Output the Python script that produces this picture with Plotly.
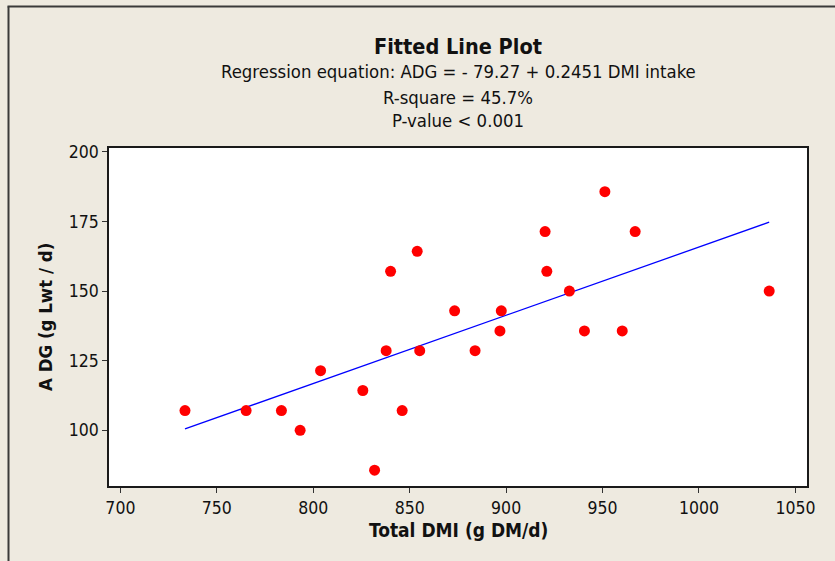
import plotly.graph_objects as go

# Total dry matter intake (g DM/d) and average daily gain (g Lwt/d)
dmi = [733.5, 765.2, 783.5, 793.2, 803.8, 825.7, 831.8, 837.8, 840.1, 846.1,
       853.9, 855.2, 873.3, 883.9, 896.8, 897.5, 920.2, 921.1, 932.8, 940.6,
       951.2, 960.2, 966.9, 1036.4]
adg = [107.1, 107.1, 107.1, 100.0, 121.4, 114.3, 85.7, 128.6, 157.1, 107.1,
       164.3, 128.6, 142.9, 128.6, 135.7, 142.9, 171.4, 157.1, 150.0, 135.7,
       185.7, 135.7, 171.4, 150.0]

# Fitted regression: ADG = -79.27 + 0.2451 * DMI
intercept = -79.27
slope = 0.2451

x_ticks = [700, 750, 800, 850, 900, 950, 1000, 1050]
y_ticks = [100, 125, 150, 175, 200]

W, H = 835, 561
L, R, T, B = 109, 28, 148, 75
PW, PH = W - L - R, H - T - B

def px(x):
    return (x - L) / PW

def py(y):
    return (H - B - y) / PH

FONT = "DejaVu Sans Condensed, DejaVu Sans, sans-serif"
BG = "#EEEAE0"

fit_x = sorted(dmi)
fit_y = [intercept + slope * v for v in fit_x]

fig = go.Figure()
fig.add_trace(go.Scatter(x=fit_x, y=fit_y, mode="lines",
                         line=dict(color="#0000FF", width=1.3),
                         hoverinfo="skip", showlegend=False))
fig.add_trace(go.Scatter(x=dmi, y=adg, mode="markers",
                         marker=dict(color="#FF0000", size=11, line=dict(width=0)),
                         showlegend=False))

axis_common = dict(showgrid=False, zeroline=False, showline=True, mirror=True,
                   linecolor="#1a1a1a", linewidth=1.5, ticks="outside",
                   ticklen=5, tickwidth=1.2, tickcolor="#333",
                   tickfont=dict(family=FONT, size=17.5, color="#111"))

fig.update_layout(
    width=W, height=H,
    margin=dict(l=L, r=R, t=T, b=B, pad=0),
    paper_bgcolor=BG, plot_bgcolor="white",
    xaxis=dict(range=[694.1, 1056.0], tickvals=x_ticks, **axis_common),
    yaxis=dict(range=[80.0, 201.4], tickvals=y_ticks, **axis_common),
    annotations=[
        dict(text="<b>Fitted Line Plot</b>", x=0.5, y=py(46), xref="paper", yref="paper",
             showarrow=False, yanchor="middle", font=dict(family=FONT, size=21.5, color="#111")),
        dict(text="Regression equation: ADG = - 79.27 + 0.2451 DMI intake", x=0.5, y=py(72),
             xref="paper", yref="paper", showarrow=False, yanchor="middle",
             font=dict(family=FONT, size=18.4, color="#111")),
        dict(text="R-square = 45.7%", x=0.5, y=py(97), xref="paper", yref="paper",
             showarrow=False, yanchor="middle", font=dict(family=FONT, size=18.4, color="#111")),
        dict(text="P-value < 0.001", x=0.5, y=py(120), xref="paper", yref="paper",
             showarrow=False, yanchor="middle", font=dict(family=FONT, size=18.4, color="#111")),
        dict(text="<b>Total DMI (g DM/d)</b>", x=0.5, y=py(530), xref="paper", yref="paper",
             showarrow=False, yanchor="middle", font=dict(family=FONT, size=19, color="#111")),
        dict(text="<b>A DG (g Lwt / d)</b>", x=px(45), y=0.5, xref="paper", yref="paper",
             showarrow=False, textangle=-90, xanchor="center", yanchor="middle",
             font=dict(family=FONT, size=18.5, color="#111")),
    ],
    shapes=[
        dict(type="line", xref="paper", yref="paper", x0=px(8.5), x1=px(8.5),
             y0=py(6.5), y1=py(H + 5), line=dict(color="#3a3a3a", width=2)),
        dict(type="line", xref="paper", yref="paper", x0=px(7.5), x1=px(W + 5),
             y0=py(6.5), y1=py(6.5), line=dict(color="#3a3a3a", width=2)),
    ],
)

fig.write_html("out.html")
